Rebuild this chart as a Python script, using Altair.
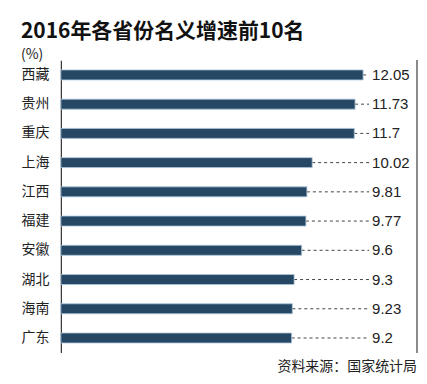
import altair as alt
import pandas as pd

provinces = ["西藏", "贵州", "重庆", "上海", "江西", "福建", "安徽", "湖北", "海南", "广东"]
values = [12.05, 11.73, 11.7, 10.02, 9.81, 9.77, 9.6, 9.3, 9.23, 9.2]
labels = ["12.05", "11.73", "11.7", "10.02", "9.81", "9.77", "9.6", "9.3", "9.23", "9.2"]

df = pd.DataFrame({"province": provinces, "value": values, "label": labels})

FONT = "Noto Sans CJK SC"
W, H = 357, 293

y_enc = alt.Y("province:N", sort=provinces,
              scale=alt.Scale(paddingInner=0.66, paddingOuter=0.33),
              axis=alt.Axis(title=None, ticks=False, domain=True, domainColor="#333333",
                            domainWidth=1.2, labelFontSize=14, labelFont=FONT,
                            labelColor="#222222", labelPadding=12))
x_enc = alt.X("value:Q", scale=alt.Scale(domain=[0, 14.2], nice=False, zero=True), axis=None)

base = alt.Chart(df)

dash = base.mark_rule(strokeDash=[3, 3], color="#444444", strokeWidth=1).encode(
    x=x_enc, x2=alt.value(309), y=y_enc)

bars = base.mark_bar(size=10, color="#274865", stroke="#a9c4d8", strokeWidth=0.8).encode(
    x=x_enc, y=y_enc)

text = base.mark_text(align="left", baseline="middle", fontSize=15, font="Liberation Sans",
                      color="#222222", dx=0).encode(
    x=alt.value(312), y=y_enc, text="label:N")

right_line = base.mark_rule(color="#8a8a8a", strokeWidth=1).encode(
    x=alt.value(W), y=alt.value(0), y2=alt.value(H))

source = alt.Chart(pd.DataFrame({"t": ["资料来源：国家统计局"]})).mark_text(
    align="right", baseline="middle", fontSize=14, font=FONT, color="#222222").encode(
    x=alt.value(W), y=alt.value(H + 14), text="t:N")

chart = alt.layer(dash, bars, text, right_line, source).properties(
    width=W, height=H,
    title=alt.Title("2016年各省份名义增速前10名", subtitle="(%)",
                    anchor="start", frame="bounds", font=FONT, fontSize=21,
                    fontWeight="bold", color="#111111", subtitleFont=FONT,
                    subtitleFontSize=14, subtitleColor="#222222", offset=0,
                    subtitlePadding=6, dy=2),
    autosize=alt.AutoSizeParams(type="none"),
    padding={"left": 53, "top": 52, "right": 2, "bottom": 22},
).configure_view(stroke=None)

chart.save("out.html", embed_options={"renderer": "svg", "actions": False})
